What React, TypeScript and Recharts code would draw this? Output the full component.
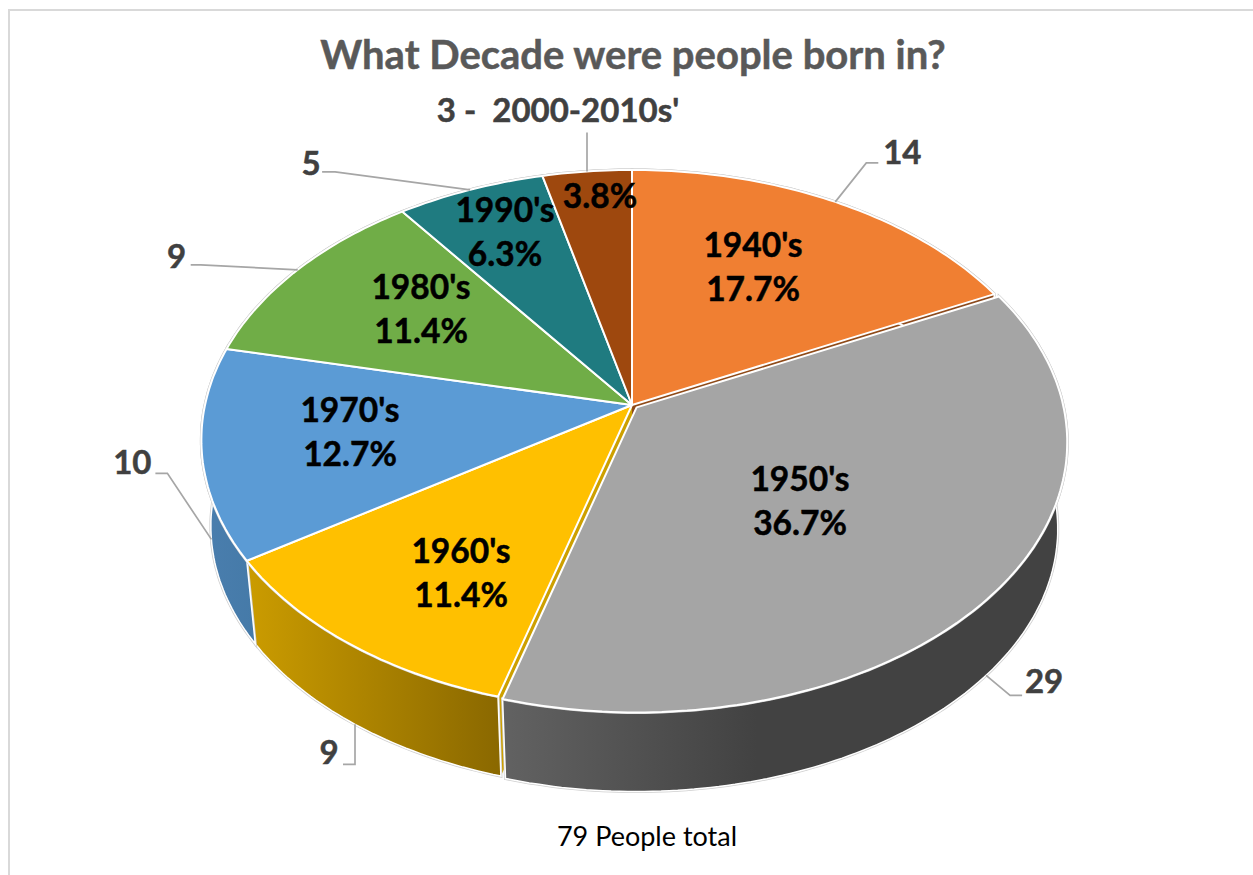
import { Pie, PieChart } from "recharts";

const decades = ["1940's", "1950's", "1960's", "1970's", "1980's", "1990's", ""];
const people = [14, 29, 9, 10, 9, 5, 3];
const outerTexts = ["14", "29", "9", "10", "9", "5", "3 -  2000-2010s'"];

const topColors = ["#F07F32", "#A5A5A5", "#FFC000", "#5B9BD5", "#70AD47", "#1F7B80", "#9E480E"];
const wallFills = ["#8C4A1D", "url(#wallGrey)", "url(#wallGold)", "url(#wallBlue)", "#42682A", "#124A4D", "#5E2B08"];
const cutColors = ["#8F4A18", "#5A5A5A", "#CDA000", "#3F6F9C", "#42682A", "#124A4D", "#5E2B08"];

// label layout, relative to the pie apex
const insideOffsets = [
  [121, -138],
  [168, 96],
  [-171, 168],
  [-282, 27],
  [-211, -96],
  [-127, -173],
  [-32, -209],
];
// leader elbow and text position, relative to the rim point of each slice
const leaderElbows = [
  [[31, -39], [43, -39]],
  [[24, 20], [36, 20]],
  [[0, 40], [-12, 40]],
  [[-44, -66], [-56, -66]],
  [[-97, -5], [-107, -5]],
  [[-135, -18], [-148, -18]],
  [[0, -39]],
];
const outerTextOffsets = [
  [67, -46],
  [58, 9],
  [-26, 31],
  [-79, -74],
  [-121, -10],
  [-159, -23],
  [-29, -58],
];

const chartData = decades.map((decade, i) => ({ decade, people: people[i], idx: i }));

const CX = 632;
const CY = 405;
const RADIUS = 431;
const EXPLODED = 1; // the 1950's slice sits slightly out of the pie
const EXPLODE_BY = 5.5;
const VANISH_Y = 3640;
const DROP = 0.027;
const DROP_X = 0.022;
const FONT = "Lato, 'Open Sans', sans-serif";

// circle -> perspective ellipse
function project(deg: number, cx: number, cy: number, R: number, r = 1) {
  const rad = (deg * Math.PI) / 180;
  const u = r * Math.sin(rad);
  const v = -r * Math.cos(rad);
  const w = 1 - 0.1296 * v;
  return { x: cx + (R * 0.9907 * u) / w, y: cy + (R * 0.616 * v) / w };
}

function lower(p: { x: number; y: number }, cx: number) {
  return { x: p.x + DROP_X * (cx - p.x), y: p.y + DROP * (VANISH_Y - p.y) };
}

function rim(from: number, to: number, cx: number, cy: number, R: number) {
  const pts = [];
  const n = Math.max(2, Math.ceil(Math.abs(to - from)));
  for (let i = 0; i <= n; i++) pts.push(project(from + ((to - from) * i) / n, cx, cy, R));
  return pts;
}

function toPath(pts: { x: number; y: number }[], close = true) {
  const d = pts.map((p, i) => `${i ? "L" : "M"}${p.x.toFixed(1)} ${p.y.toFixed(1)}`).join(" ");
  return close ? d + " Z" : d;
}

function sliceOf(props: any) {
  const idx = props.payload?.idx ?? props.idx ?? 0;
  const from = 90 - props.startAngle;
  const to = 90 - props.endAngle;
  let dx = 0;
  let dy = 0;
  if (idx === EXPLODED) {
    const mid = project((from + to) / 2, 0, 0, EXPLODE_BY);
    dx = mid.x;
    dy = mid.y;
  }
  return { idx, from, to, dx, dy, cx: props.cx, cy: props.cy, R: props.outerRadius };
}

// only the two faces next to the exploded slice can be seen
function CutFaces(props: any) {
  const { idx, from, to, cx, cy, R } = sliceOf(props);
  if (idx !== EXPLODED - 1 && idx !== EXPLODED + 1) return null;
  const deg = idx < EXPLODED ? to : from;
  const apex = { x: cx, y: cy };
  const p = project(deg, cx, cy, R);
  return <path d={toPath([apex, p, lower(p, cx), lower(apex, cx)])} fill={cutColors[idx]} stroke="none" />;
}

function OuterWall(props: any) {
  const { idx, from, to, dx, dy, cx, cy, R } = sliceOf(props);
  const top = rim(from, to, cx, cy, R);
  const bottom = top.map((p) => lower(p, cx)).reverse();
  return (
    <g transform={`translate(${dx.toFixed(1)} ${dy.toFixed(1)})`}>
      <path d={toPath([...top, ...bottom])} fill="none" stroke="#cfcfcf" strokeWidth={3} />
      <path d={toPath([...top, ...bottom])} fill={wallFills[idx]} stroke="#fff" strokeWidth={1.5} />
    </g>
  );
}

function TopFace(props: any) {
  const { idx, from, to, dx, dy, cx, cy, R } = sliceOf(props);
  const pts = [{ x: cx, y: cy }, ...rim(from, to, cx, cy, R)];
  return (
    <g transform={`translate(${dx.toFixed(1)} ${dy.toFixed(1)})`}>
      <path d={toPath(rim(from, to, cx, cy, R), false)} fill="none" stroke="#cfcfcf" strokeWidth={3} />
      <path d={toPath(pts)} fill={topColors[idx]} stroke="#fff" strokeWidth={2} strokeLinejoin="round" />
    </g>
  );
}

function SliceLabel(props: any) {
  const { index, cx, cy, midAngle, outerRadius, percent } = props;
  const mid = 90 - midAngle;
  const frontWall = index >= 1 && index <= 3;
  let anchor = project(mid, cx, cy, outerRadius);
  if (frontWall) anchor = lower(anchor, cx);
  if (index === EXPLODED) {
    const shift = project(mid, 0, 0, EXPLODE_BY);
    anchor = { x: anchor.x + shift.x, y: anchor.y + shift.y };
  }
  const [ix, iy] = insideOffsets[index];
  const [ox, oy] = outerTextOffsets[index];
  const leader = [anchor, ...leaderElbows[index].map(([ex, ey]) => ({ x: anchor.x + ex, y: anchor.y + ey }))];
  return (
    <g>
      <path d={toPath(leader, false)} fill="none" stroke="#A6A6A6" strokeWidth={1.7} />
      <text
        x={anchor.x + ox}
        y={anchor.y + oy}
        textAnchor="middle"
        dominantBaseline="middle"
        fontFamily={FONT}
        fontWeight={700}
        fontSize={33}
        fill="#404040"
        stroke="#404040"
        strokeWidth={0.5}
        style={{ whiteSpace: "pre" }}
      >
        {outerTexts[index]}
      </text>
      <text
        x={cx + ix}
        textAnchor="middle"
        fontFamily={FONT}
        fontWeight={700}
        fontSize={33.5}
        fill="#000"
        stroke="#000"
        strokeWidth={0.5}
      >
        {decades[index] ? (
          <tspan x={cx + ix} y={cy + iy - 22 + 12}>
            {decades[index]}
          </tspan>
        ) : null}
        <tspan x={cx + ix} y={cy + iy + (decades[index] ? 22 + 12 : 12)}>
          {(percent * 100).toFixed(1)}%
        </tspan>
      </text>
    </g>
  );
}

export default function App() {
  const shared = {
    data: chartData,
    dataKey: "people",
    nameKey: "decade",
    cx: CX,
    cy: CY,
    outerRadius: RADIUS,
    startAngle: 90,
    endAngle: -270,
    stroke: "none",
    isAnimationActive: false,
  };
  return (
    <div style={{ position: "absolute", left: 0, top: 0, width: 1253, height: 875, background: "#fff", overflow: "hidden" }}>
      <div style={{ position: "absolute", left: 8, top: 9, width: 1245, height: 866, borderTop: "2px solid #D9D9D9", borderLeft: "2px solid #D9D9D9", boxSizing: "border-box" }} />
      <div style={{ position: "absolute", left: 0, top: 0 }}>
        <PieChart width={1253} height={875} margin={{ top: 0, right: 0, bottom: 0, left: 0 }}>
          <defs>
            <linearGradient id="wallGrey" x1="0" y1="0" x2="1" y2="0">
              <stop offset="0" stopColor="#626262" />
              <stop offset="0.45" stopColor="#424242" />
              <stop offset="1" stopColor="#424242" />
            </linearGradient>
            <linearGradient id="wallGold" x1="0" y1="0" x2="1" y2="0">
              <stop offset="0" stopColor="#CB9C00" />
              <stop offset="1" stopColor="#8A6800" />
            </linearGradient>
            <linearGradient id="wallBlue" x1="0" y1="0" x2="1" y2="0">
              <stop offset="0" stopColor="#4A7EAE" />
              <stop offset="1" stopColor="#457AA8" />
            </linearGradient>
          </defs>
          <text x={633} y={59} textAnchor="middle" dominantBaseline="middle" fontFamily={FONT} fontWeight={700} fontSize={40} fill="#595959" stroke="#595959" strokeWidth={0.5}>
            What Decade were people born in?
          </text>
          <text x={647} y={839} textAnchor="middle" dominantBaseline="middle" fontFamily={FONT} fontSize={27} fill="#000">
            79 People total
          </text>
          <Pie {...shared} shape={CutFaces} />
          <Pie {...shared} shape={OuterWall} />
          <Pie {...shared} shape={TopFace} label={SliceLabel} labelLine={false} />
        </PieChart>
      </div>
    </div>
  );
}
